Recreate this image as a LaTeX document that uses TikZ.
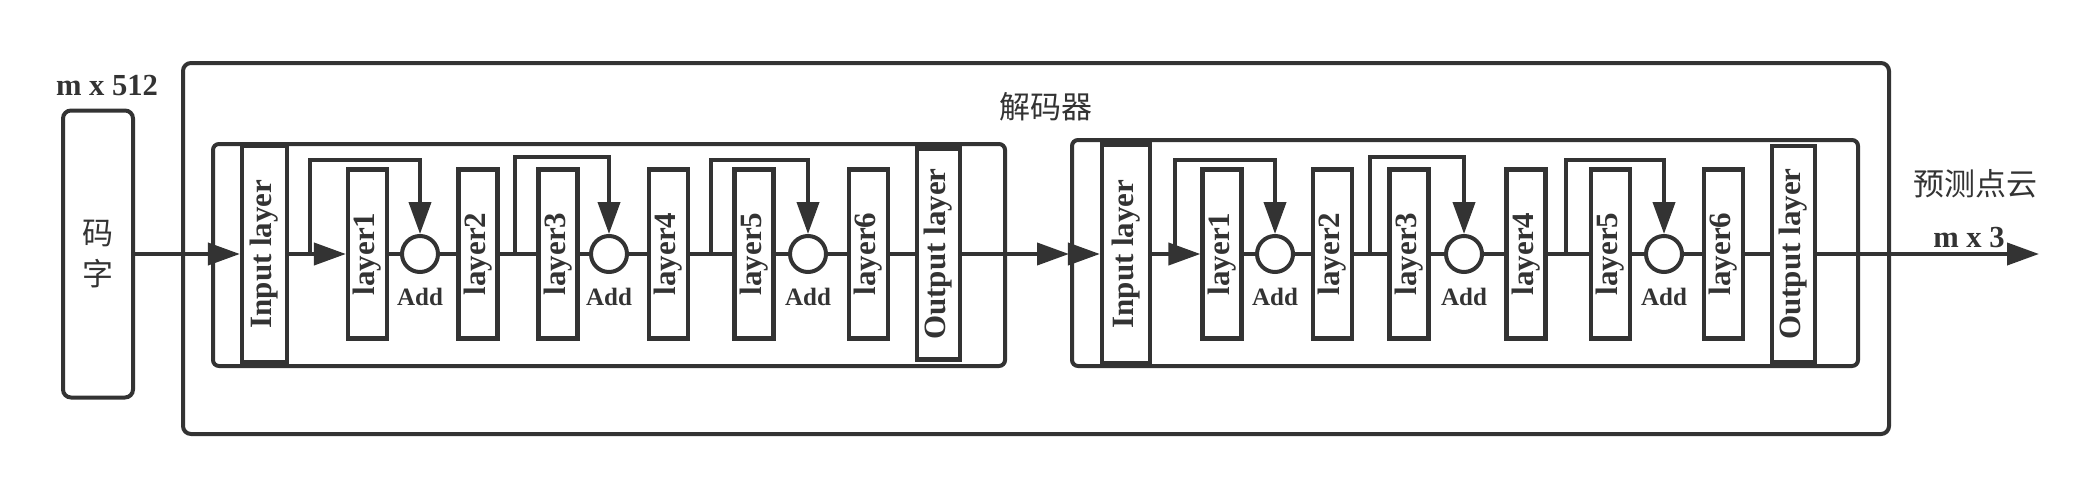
\documentclass[tikz,border=0pt]{standalone}
\usepackage{fontspec}
\setmainfont{Liberation Serif}
\newfontfamily\cjk{Noto Sans CJK SC}
\usetikzlibrary{arrows.meta,calc}
\definecolor{ink}{HTML}{333333}
\tikzset{
  ln/.style={draw=ink, line width=2pt},
  arr/.style={ln, -{Triangle[length=16pt,width=11pt]}},
  box/.style={draw=ink, line width=2pt, rounded corners=4pt},
  layerbox/.style={draw=ink, line width=2.1pt, fill=white, inner sep=0pt,
    minimum width=19.5pt, minimum height=84.5pt,
    font=\fontsize{15.5}{18}\selectfont\bfseries, text=ink},
  iobox/.style={layerbox, minimum width=#1},
  addc/.style={circle, draw=ink, line width=2pt, fill=white, inner sep=0pt, minimum size=18pt},
  addlbl/.style={font=\fontsize{12.5}{15}\selectfont\bfseries, text=ink},
  lbl/.style={font=\fontsize{15.3}{18}\selectfont\bfseries, text=ink},
  cjklbl/.style={font=\cjk\fontsize{15.5}{20.5}\selectfont, text=ink, align=center},
}
\newcommand{\rt}[1]{\rotatebox{90}{#1}}
\begin{document}
\begin{tikzpicture}[x=0.5pt,y=-0.5pt]
\useasboundingbox (0,0) rectangle (2091,487);

% outer decoder box and inner blocks
\draw[box] (183,63) rectangle (1889,434);
\draw[box, rounded corners=3pt] (213,144) rectangle (1005,366);
\draw[box, rounded corners=3pt] (1072,140) rectangle (1858,366);
\node[cjklbl] (dec) at (1046,107) {解码器};

% input code
\node[draw=ink, line width=2pt, rounded corners=4pt, minimum width=35pt, minimum height=143.5pt, inner sep=0pt, cjklbl] (code) at (98,254) {码\\字};
\node[lbl] (m512) at (107,86) {m x 512};

% ---- block 1 ----
\node[iobox=22.5pt, minimum height=108.5pt] (ain) at (264.5,254) {\rt{Input layer}};
\node[layerbox] (al1) at (367.5,254) {\rt{layer1}};
\node[addc] (ac1) at (420,254) {};
\node[addlbl] (aa1) at (420,297) {Add};
\node[layerbox] (al2) at (478,254) {\rt{layer2}};
\node[layerbox] (al3) at (558,254) {\rt{layer3}};
\node[addc] (ac2) at (609,254) {};
\node[addlbl] (aa2) at (609,297) {Add};
\node[layerbox] (al4) at (668.5,254) {\rt{layer4}};
\node[layerbox] (al5) at (754,254) {\rt{layer5}};
\node[addc] (ac3) at (808,254) {};
\node[addlbl] (aa3) at (808,297) {Add};
\node[layerbox] (al6) at (868.5,254) {\rt{layer6}};
\node[iobox=21.5pt, minimum height=105.5pt] (aout) at (938.5,254) {\rt{Output layer}};

\coordinate (as1) at (310,254);
\coordinate (as2) at (515,254);
\coordinate (as3) at (711,254);

\draw[arr] (code) -- (ain);
\draw[arr] (ain) -- (al1);
\draw[ln] (al1) -- (ac1);
\draw[ln] (ac1) -- (al2);
\draw[ln] (al2) -- (al3);
\draw[ln] (al3) -- (ac2);
\draw[ln] (ac2) -- (al4);
\draw[ln] (al4) -- (al5);
\draw[ln] (al5) -- (ac3);
\draw[ln] (ac3) -- (al6);
\draw[ln] (al6) -- (aout);
\draw[arr] (as1) -- ++(0,-94) -| (ac1.north);
\draw[arr] (as2) -- ++(0,-97) -| (ac2.north);
\draw[arr] (as3) -- ++(0,-94) -| (ac3.north);

% ---- block 2 ----
\node[iobox=24pt, minimum height=109.5pt] (bin) at (1126,254) {\rt{Input layer}};
\node[layerbox] (bl1) at (1222,254) {\rt{layer1}};
\node[addc] (bc1) at (1275,254) {};
\node[addlbl] (ba1) at (1275,297) {Add};
\node[layerbox] (bl2) at (1332.5,254) {\rt{layer2}};
\node[layerbox] (bl3) at (1409,254) {\rt{layer3}};
\node[addc] (bc2) at (1464,254) {};
\node[addlbl] (ba2) at (1464,297) {Add};
\node[layerbox] (bl4) at (1526,254) {\rt{layer4}};
\node[layerbox] (bl5) at (1610.5,254) {\rt{layer5}};
\node[addc] (bc3) at (1664,254) {};
\node[addlbl] (ba3) at (1664,297) {Add};
\node[layerbox] (bl6) at (1723.5,254) {\rt{layer6}};
\node[iobox=21.5pt, minimum height=108pt] (bout) at (1793.5,254) {\rt{Output layer}};

\coordinate (bs1) at (1175,254);
\coordinate (bs2) at (1370,254);
\coordinate (bs3) at (1566,254);
\coordinate (join) at (1069,254);
\coordinate (end) at (2039,254);

\draw[arr] (aout) -- (join);
\draw[arr] (join) -- (bin);
\draw[arr] (bin) -- (bl1);
\draw[ln] (bl1) -- (bc1);
\draw[ln] (bc1) -- (bl2);
\draw[ln] (bl2) -- (bl3);
\draw[ln] (bl3) -- (bc2);
\draw[ln] (bc2) -- (bl4);
\draw[ln] (bl4) -- (bl5);
\draw[ln] (bl5) -- (bc3);
\draw[ln] (bc3) -- (bl6);
\draw[ln] (bl6) -- (bout);
\draw[arr] (bout) -- (end);
\draw[arr] (bs1) -- ++(0,-94) -| (bc1.north);
\draw[arr] (bs2) -- ++(0,-97) -| (bc2.north);
\draw[arr] (bs3) -- ++(0,-94) -| (bc3.north);

% output labels
\node[cjklbl] (pred) at (1975,184) {预测点云};
\node[lbl] (m3) at (1969,238) {m x 3};
\end{tikzpicture}
\end{document}
